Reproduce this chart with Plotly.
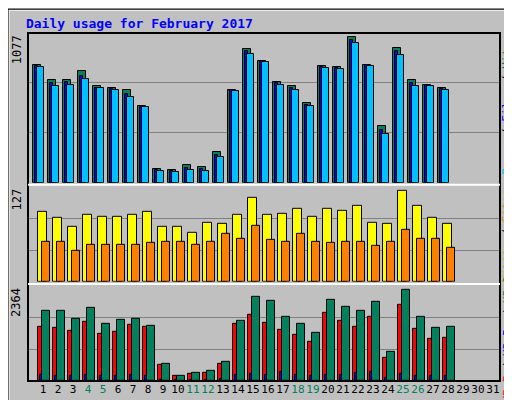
import plotly.graph_objects as go

days = list(range(1, 29))
all_days = list(range(1, 32))
weekend = [4, 5, 11, 12, 18, 19, 25, 26]

hits = [849, 742, 742, 806, 692, 678, 670, 549, 100, 93, 128, 114, 221, 670,
        963, 877, 727, 699, 570, 842, 834, 1048, 849, 407, 970, 742, 706, 678]
files = [840, 720, 722, 770, 684, 674, 640, 546, 92, 85, 108, 98, 200, 666,
         945, 873, 716, 684, 560, 834, 826, 1026, 846, 378, 945, 716, 702, 674]
pages = [834, 699, 706, 749, 678, 670, 620, 542, 86, 78, 93, 86, 185, 663,
         927, 870, 706, 670, 549, 827, 820, 1006, 842, 349, 920, 692, 699, 670]
visits = [94, 86, 74, 90, 87, 87, 89, 93, 73, 74, 66, 79, 77, 89,
          112, 90, 91, 98, 87, 98, 95, 102, 79, 78, 122, 101, 85, 77]
sites = [53, 53, 41, 50, 50, 50, 50, 52, 53, 53, 50, 54, 64, 57,
         75, 56, 53, 64, 53, 52, 53, 54, 48, 54, 69, 58, 57, 46]
kb_f = [1343, 1318, 1244, 1468, 1169, 1219, 1393, 1343, 398, 124, 174, 199, 423, 1418,
        1642, 1443, 1268, 1144, 970, 1692, 1493, 1343, 1592, 572, 1891, 1294, 1045, 1070]
kb_in = [150, 140, 130, 160, 120, 130, 150, 140, 40, 20, 25, 30, 50, 150,
         170, 150, 224, 160, 130, 160, 160, 200, 230, 80, 180, 130, 130, 130]
kb_out = [1742, 1742, 1542, 1816, 1418, 1518, 1542, 1368, 423, 124, 199, 249, 473, 1493,
          2090, 1990, 1592, 1418, 1194, 2015, 1841, 1742, 1965, 722, 2264, 1592, 1318, 1343]

max_top, max_mid, max_bot = 1077, 127, 2364

GREEN = "#00805c"
BLUE = "#0000ff"
CYAN = "#00c0ff"
YELLOW = "#ffff00"
ORANGE = "#ff8000"
RED = "#ff0000"
FONT = "DejaVu Sans Mono"


def bars(vals, start, end, color, xa, ya):
    w = end - start
    return go.Bar(x=[d + start + w / 2 for d in days], y=vals, width=w,
                  marker=dict(color=color, line=dict(color="black", width=1)),
                  xaxis=xa, yaxis=ya, showlegend=False, hoverinfo="skip")


fig = go.Figure()
fig.add_trace(bars(hits, -0.67, -0.13, GREEN, "x", "y"))
fig.add_trace(bars(files, -0.53, -0.33, BLUE, "x", "y"))
fig.add_trace(bars(pages, -0.4, 0.07, CYAN, "x", "y"))
fig.add_trace(bars(visits, -0.33, 0.27, YELLOW, "x2", "y2"))
fig.add_trace(bars(sites, -0.07, 0.47, ORANGE, "x2", "y2"))
fig.add_trace(bars(kb_f, -0.33, -0.07, RED, "x3", "y3"))
fig.add_trace(bars(kb_in, -0.2, -0.07, BLUE, "x3", "y3"))
fig.add_trace(bars(kb_out, -0.07, 0.47, GREEN, "x3", "y3"))

xcommon = dict(range=[0, 31.47], showgrid=False, zeroline=False, fixedrange=True)
ticktext = ["<span style='color:%s'>%d</span>" % (GREEN if d in weekend else "black", d)
            for d in all_days]
fig.update_layout(
    width=512, height=400,
    margin=dict(l=20, r=20, t=25, b=24),
    paper_bgcolor="#c0c0c0", plot_bgcolor="#c0c0c0",
    barmode="overlay", bargap=0,
    font=dict(family=FONT, size=12, color="black"),
    xaxis=dict(xcommon, anchor="y", showticklabels=False),
    xaxis2=dict(xcommon, anchor="y2", showticklabels=False),
    xaxis3=dict(xcommon, anchor="y3", tickvals=all_days, ticktext=ticktext,
                ticks="", tickangle=0, tickfont=dict(size=11)),
    yaxis=dict(domain=[0.57, 1], range=[0, max_top], dtick=max_top / 3,
               showticklabels=False, gridcolor="#808080", zeroline=False),
    yaxis2=dict(domain=[0.285, 0.558], range=[0, max_mid], dtick=max_mid / 3,
                showticklabels=False, gridcolor="#808080", zeroline=False),
    yaxis3=dict(domain=[0.0, 0.2735], range=[0, max_bot], dtick=max_bot / 3,
                showticklabels=False, gridcolor="#808080", zeroline=False),
    title=dict(text="<b>Daily usage for February 2017</b>", x=0.035, xanchor="left",
               y=0.962, yanchor="middle",
               font=dict(family=FONT, size=13, color=BLUE)),
)

# panel separators and frame
fig.add_shape(type="rect", xref="paper", yref="paper", x0=0, x1=1, y0=0, y1=1,
              line=dict(color="black", width=2))
for y in [0.564, 0.279]:
    fig.add_shape(type="line", xref="paper", yref="paper", x0=0, x1=1, y0=y, y1=y,
                  line=dict(color="white", width=2))
fig.add_shape(type="rect", xref="paper", yref="paper",
              x0=-19 / 472, x1=491 / 472, y0=-23 / 351, y1=374 / 351,
              line=dict(color="white", width=1))
fig.add_shape(type="rect", xref="paper", yref="paper",
              x0=-20 / 472, x1=492 / 472, y0=-24 / 351, y1=375 / 351,
              line=dict(color="black", width=1))

# left max labels
for text, y in [(str(max_top), 1.0), (str(max_mid), 0.558), (str(max_bot), 0.2735)]:
    fig.add_annotation(text=text, xref="paper", yref="paper", x=-0.005, y=y,
                       xanchor="right", yanchor="top", textangle=-90, showarrow=False,
                       font=dict(family=FONT, size=12))

# right legends
legends = [
    (0.785, [("Pages", CYAN), ("Files", BLUE), ("Hits", GREEN)]),
    (0.42, [("Visits", "#c0c000"), ("Sites", ORANGE)]),
    (0.14, [("KB F", RED), ("KB In", BLUE), ("KB Out", GREEN)]),
]
for y, parts in legends:
    text = "<span style='color:black'> / </span>".join(
        "<span style='color:%s'>%s</span>" % (c, t) for t, c in parts)
    fig.add_annotation(text=text, xref="paper", yref="paper", x=1.0148, y=y,
                       xanchor="center", yanchor="middle", textangle=-90, showarrow=False,
                       font=dict(family=FONT, size=11))

fig.write_html("out.html")
